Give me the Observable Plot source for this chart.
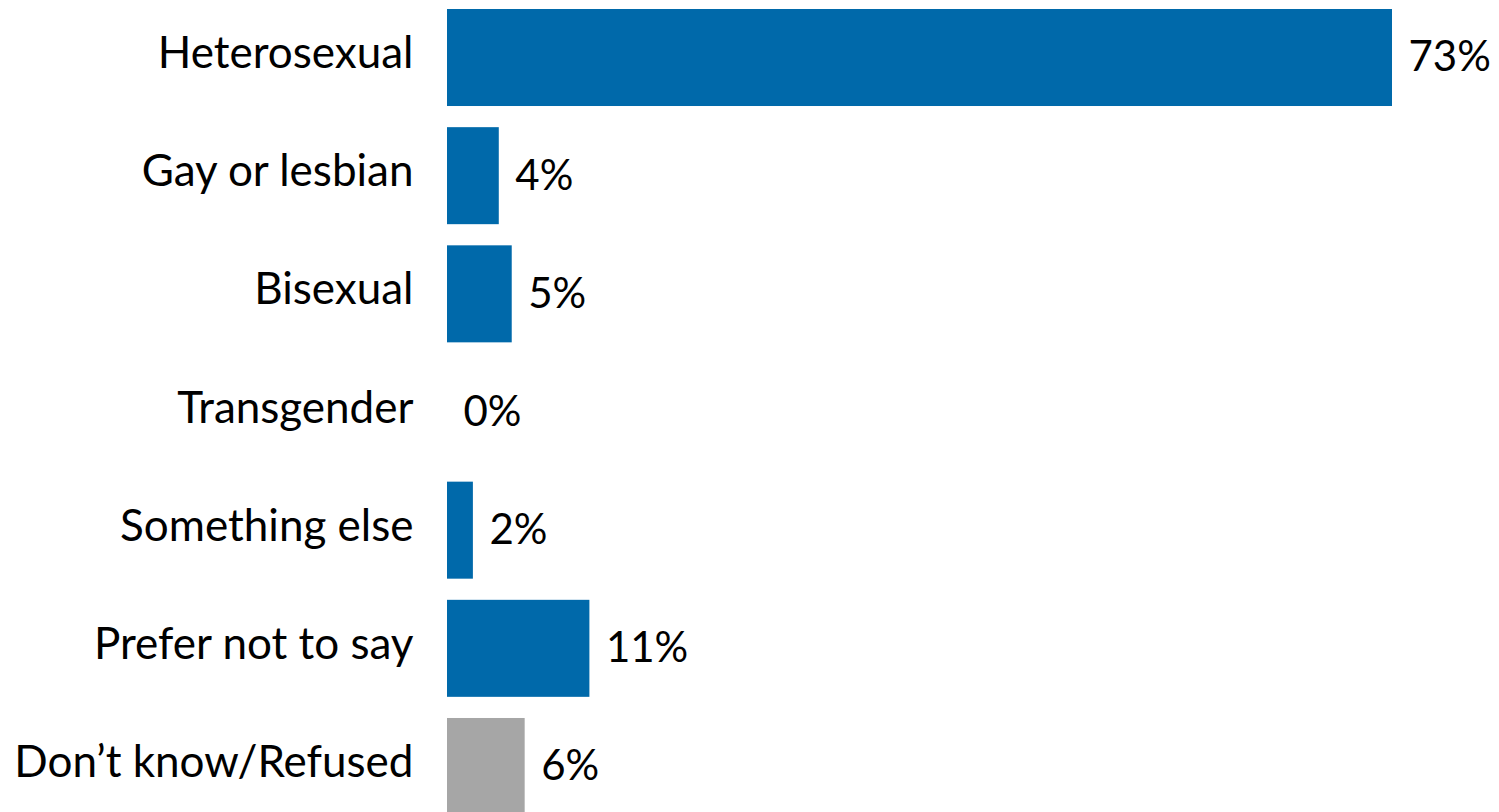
<!DOCTYPE html>
<html>
<head>
<meta charset="utf-8">
<script src="https://cdn.jsdelivr.net/npm/d3@7"></script>
<script src="https://cdn.jsdelivr.net/npm/@observablehq/plot@0.6"></script>
<style>
  html, body { margin: 0; padding: 0; background: #fff; }
  #chart svg { display: block; }
</style>
</head>
<body>
<div id="chart"></div>
<script>
const categories = ["Heterosexual", "Gay or lesbian", "Bisexual", "Transgender", "Something else", "Prefer not to say", "Don\u2019t know/Refused"];
const values = [73, 4, 5, 0, 2, 11, 6];
const groups = ["main", "main", "main", "main", "main", "main", "other"];
const valueLabels = ["73%", "4%", "5%", "0%", "2%", "11%", "6%"];

const data = categories.map((c, i) => ({category: c, value: values[i], group: groups[i], label: valueLabels[i]}));

const FONT = "Lato, 'Open Sans', sans-serif";

const chart = Plot.plot({
  width: 1499,
  height: 812,
  marginLeft: 447,
  marginRight: 107,
  marginTop: 9,
  marginBottom: 0,
  style: {fontFamily: FONT, fontSize: "42px", color: "#000", background: "#fff"},
  x: {domain: [0, 73], axis: null},
  y: {domain: categories, range: [9, 815], padding: 0.179, paddingOuter: 0, round: false, label: null},
  color: {domain: ["main", "other"], range: ["#0069AA", "#A6A6A6"]},
  marks: [
    Plot.barX(data, {x: "value", y: "category", fill: "group"}),
    Plot.text(data, {x: "value", y: "category", text: "label", textAnchor: "start", dx: 16, fontSize: 42, fill: "#000"}),
    Plot.axisY({tickSize: 0, tickPadding: 34, fontSize: 44, dy: -4, label: null, fill: "#000"})
  ]
});
document.getElementById("chart").appendChild(chart);
</script>
</body>
</html>
